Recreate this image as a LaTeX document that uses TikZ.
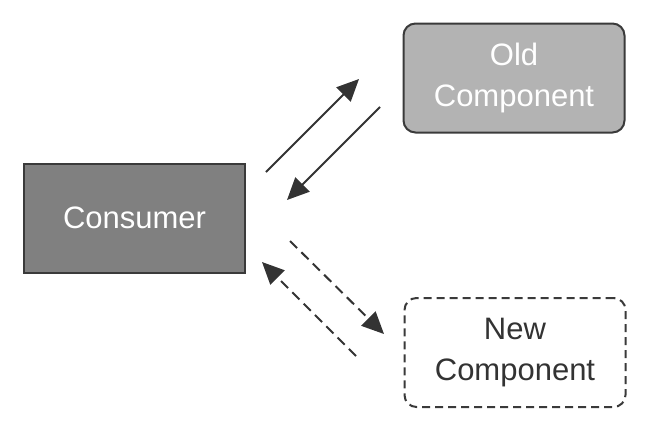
\documentclass[tikz,border=0pt]{standalone}
\usepackage{fontspec}
\setmainfont{Liberation Sans}
\usetikzlibrary{arrows.meta}
\definecolor{edge}{HTML}{3A3A3A}
\definecolor{consfill}{HTML}{808080}
\definecolor{oldfill}{HTML}{B3B3B3}
\definecolor{ink}{HTML}{333333}
\begin{document}
\begin{tikzpicture}[x=1pt,y=-1pt,
  box/.style={draw=edge,line width=2pt,minimum width=221pt,minimum height=109pt,inner sep=0pt,align=center,font=\fontsize{31}{41}\selectfont},
  arr/.style={draw=ink,line width=2pt,-{Triangle[length=22pt,width=20pt]}},
  darr/.style={arr,dash pattern=on 10pt off 6pt}]
\useasboundingbox (0,0) rectangle (650,432);
\node[box,fill=consfill,text=white] (cons) at (134.5,218) {Consumer};
\node[box,fill=oldfill,text=white,rounded corners=12pt] (old) at (514,78) {Old\\Component};
\node[box,fill=white,text=ink,rounded corners=12pt,dash pattern=on 8pt off 5pt] (new) at (515,352.5) {New\\Component};
\coordinate (a1s) at (266,172);
\coordinate (a1e) at (359,79);
\coordinate (a2s) at (380,107);
\coordinate (a2e) at (287,200);
\coordinate (a3s) at (290,241);
\coordinate (a3e) at (384,334);
\coordinate (a4s) at (356,356);
\coordinate (a4e) at (262,262);
\draw[arr] (a1s) -- (a1e);
\draw[arr] (a2s) -- (a2e);
\draw[darr] (a3s) -- (a3e);
\draw[darr] (a4s) -- (a4e);
\end{tikzpicture}
\end{document}
